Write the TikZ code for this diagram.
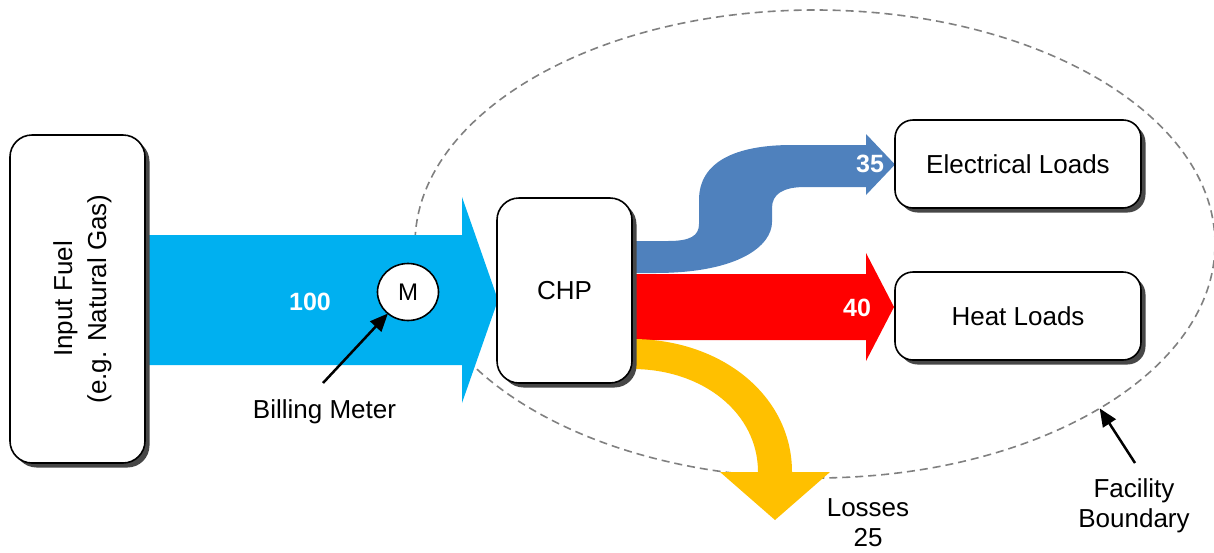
\documentclass[tikz,border=0pt]{standalone}
\usepackage{fontspec}
\setmainfont{Liberation Sans}
\usetikzlibrary{shapes.geometric,shadows,arrows.meta}
\definecolor{fuelblue}{HTML}{00B0F0}
\definecolor{elecblue}{HTML}{4F81BD}
\definecolor{heatred}{HTML}{FF0000}
\definecolor{lossyellow}{HTML}{FFC000}
\definecolor{boundgray}{HTML}{808080}
\begin{document}
\begin{tikzpicture}[x=1pt,y=-1pt,
  box/.style={draw=black, line width=1.6pt, fill=white, rounded corners=20pt,
    inner sep=0pt, outer sep=0pt, align=center,
    font=\fontsize{26}{30}\selectfont,
    drop shadow={shadow xshift=4.5pt, shadow yshift=-4.5pt, fill=black!72, opacity=1}},
  meter/.style={ellipse, draw=black, line width=1.6pt, fill=white,
    minimum width=61pt, minimum height=57pt, inner sep=0pt, outer sep=0pt,
    font=\fontsize{24}{28}\selectfont},
  boundary/.style={ellipse, draw=boundgray, line width=1.6pt,
    dash pattern=on 8pt off 5pt, minimum width=800pt, minimum height=468pt,
    inner sep=0pt, outer sep=0pt},
  num/.style={text=white, inner sep=0pt, font=\fontsize{25}{30}\selectfont\bfseries},
  lbl/.style={inner sep=0pt, align=center, font=\fontsize{26}{30}\selectfont},
  pointer/.style={draw=black, line width=2.5pt, -{Triangle[length=18pt,width=15pt]}}
]
\useasboundingbox (0,0) rectangle (1214,552);

% facility boundary
\node[boundary] (facility) at (815,244) {};

% input fuel flow
\fill[fuelblue] (140,235) -- (462,235) -- (462,197) -- (498,300) -- (462,403)
  -- (462,365) -- (140,365) -- cycle;

% electrical flow (S-shaped)
\fill[elecblue] (625,241) -- (668,241) .. controls (690,241) and (699,236) .. (699,224)
  -- (699,200) .. controls (699,162) and (735,145) .. (792,145) -- (866,145)
  -- (866,134) -- (895,164.5) -- (866,195) -- (866,187) -- (805,187)
  .. controls (783,187) and (772,194) .. (772,208) -- (772,222)
  .. controls (772,245) and (740,273) .. (655,273) -- (625,273) -- cycle;

% heat flow
\fill[heatred] (625,274) -- (866,274) -- (866,253) -- (894,307) -- (866,361)
  -- (866,340) -- (625,340) -- cycle;

% losses flow
\fill[lossyellow] (625,339) -- (632,339) .. controls (722,339) and (792,396) .. (792,472)
  -- (830,472) -- (775,520) -- (720,472) -- (758,472)
  .. controls (758,413) and (703,369) .. (632,369) -- (625,369) -- cycle;

% boxes
\node[box, rounded corners=22pt, minimum width=135pt, minimum height=328pt] (fuel) at (77.5,299)
  {\rotatebox{90}{\begin{tabular}{@{}c@{}}\rule{0pt}{32pt}Input Fuel\\[4pt](e.g. Natural Gas)\end{tabular}}};
\node[box, rounded corners=22pt, minimum width=135pt, minimum height=185pt] (chp) at (564.5,290.5) {CHP};
\node[box, rounded corners=18pt, minimum width=246pt, minimum height=88pt] (elec) at (1018,164) {Electrical Loads};
\node[box, rounded corners=18pt, minimum width=246pt, minimum height=88pt] (heat) at (1018,316) {Heat Loads};

% meter and values
\node[meter] (meter) at (408,292) {M};
\node[num] (v100) at (310,302) {100};
\node[num] (v35) at (870,164) {35};
\node[num] (v40) at (857,308) {40};

% labels
\node[lbl, anchor=base] (bmtext) at (324.5,418) {Billing Meter};
\node[lbl] (losses) at (868,522.5) {Losses\\25};
\node[lbl] (fbtext) at (1134,506) {Facility\\Boundary};

% pointers
\coordinate (bmtail) at (323,383);
\coordinate (fbtail) at (1135,463);
\draw[pointer] (bmtail) -- (meter);
\draw[pointer] (fbtail) -- (facility.-30);
\end{tikzpicture}
\end{document}
